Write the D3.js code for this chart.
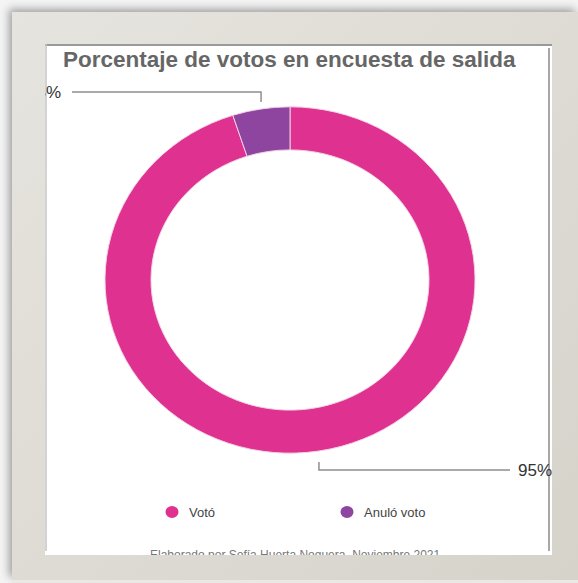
<!DOCTYPE html>
<html>
<head>
<meta charset="utf-8">
<script src="https://cdn.jsdelivr.net/npm/d3@7"></script>
<style>
  html, body { margin: 0; padding: 0; background: #ffffff; }
  svg { display: block; }
</style>
</head>
<body>
<script>
// Exit-poll results
const categories = ["Votó", "Anuló voto"];
const values = [95, 5];
const valueLabels = ["95%", "5%"];
const colors = ["#de3190", "#8d45a0"];
const title = "Porcentaje de votos en encuesta de salida";
const footer = "Elaborado por Sofía Huerta Noguera, Noviembre 2021";

const W = 578, H = 583;
const svg = d3.select("body").append("svg").attr("width", W).attr("height", H);
const defs = svg.append("defs");

// frame shading
const fg = defs.append("linearGradient").attr("id", "frameGrad")
  .attr("x1", 0).attr("y1", 0).attr("x2", 1).attr("y2", 1);
fg.append("stop").attr("offset", "0%").attr("stop-color", "#e6e4de");
fg.append("stop").attr("offset", "100%").attr("stop-color", "#d6d3cb");

const sh = defs.append("filter").attr("id", "frameShadow")
  .attr("x", "-10%").attr("y", "-10%").attr("width", "120%").attr("height", "120%");
sh.append("feDropShadow").attr("dx", -3).attr("dy", -3).attr("stdDeviation", 4)
  .attr("flood-color", "#000").attr("flood-opacity", 0.35);

// outer backdrop
svg.append("rect").attr("width", W).attr("height", H).attr("fill", "#f4f4f4");

// frame
svg.append("rect").attr("x", 12).attr("y", 12).attr("width", W - 12).attr("height", 568)
  .attr("fill", "url(#frameGrad)").attr("filter", "url(#frameShadow)");
svg.append("rect").attr("x", 12).attr("y", 580).attr("width", W - 12).attr("height", 3)
  .attr("fill", "#e9e8e4");

// inner panel
const panel = { x: 45, y: 44, w: 507, h: 511 };
defs.append("clipPath").attr("id", "panelClip")
  .append("rect").attr("x", panel.x).attr("y", panel.y).attr("width", panel.w).attr("height", panel.h);

svg.append("rect").attr("x", panel.x).attr("y", panel.y).attr("width", panel.w).attr("height", panel.h)
  .attr("fill", "#ffffff");
// bevel lines
svg.append("line").attr("x1", panel.x).attr("x2", panel.x + panel.w).attr("y1", panel.y + 1).attr("y2", panel.y + 1)
  .attr("stroke", "#9a9a9a").attr("stroke-width", 2);
svg.append("line").attr("x1", panel.x + 1).attr("x2", panel.x + 1).attr("y1", panel.y).attr("y2", panel.y + panel.h - 4)
  .attr("stroke", "#c4c4c4").attr("stroke-width", 1.5);
svg.append("line").attr("x1", panel.x + panel.w - 3).attr("x2", panel.x + panel.w - 3).attr("y1", panel.y + 4).attr("y2", panel.y + panel.h - 4)
  .attr("stroke", "#a8a8a8").attr("stroke-width", 2);

const g = svg.append("g").attr("clip-path", "url(#panelClip)");

// title (slightly condensed vertically, like the rest of the chart)
g.append("text").attr("transform", "translate(63,67) scale(1,0.94)")
  .attr("font-family", "Liberation Sans, Arial, sans-serif")
  .attr("font-weight", "bold").attr("font-size", 22.5).attr("fill", "#666666")
  .text(title);

// donut
const cx = 290, cy = 280, rOuter = 185, rInner = 139, yScale = 0.936;
const pie = d3.pie().sort(null).value(d => d)(values);
const arc = d3.arc().innerRadius(rInner).outerRadius(rOuter);

const donut = g.append("g").attr("transform", `translate(${cx},${cy}) scale(1,${yScale})`);
donut.selectAll("path").data(pie).join("path")
  .attr("d", arc)
  .attr("fill", (d, i) => colors[i])
  .attr("stroke", "#f3d3e6").attr("stroke-width", 1);

// leader lines and value labels
const lineColor = "#8f8f8f";
pie.forEach((d, i) => {
  const mid = (d.startAngle + d.endAngle) / 2;
  const sx = cx + Math.sin(mid) * rOuter;
  const up = Math.cos(mid) > 0;
  const yEdge = cy - Math.cos(mid) * rOuter * yScale;
  const y0 = up ? yEdge - 7 : yEdge + 11;
  const y1 = up ? yEdge - 17 : yEdge + 19;
  const xEnd = up ? 72 : 510;
  g.append("path")
    .attr("d", `M${sx},${y0}L${sx},${y1}L${xEnd},${y1}`)
    .attr("fill", "none").attr("stroke", lineColor).attr("stroke-width", 1.5);
  g.append("text")
    .attr("x", up ? xEnd - 11 : xEnd + 8).attr("y", y1 + 6)
    .attr("text-anchor", up ? "end" : "start")
    .attr("font-family", "Liberation Sans, Arial, sans-serif")
    .attr("font-size", 17).attr("fill", "#333333")
    .text(valueLabels[i]);
});

// legend
const legendX = [172, 347];
categories.forEach((c, i) => {
  g.append("ellipse").attr("cx", legendX[i]).attr("cy", 512).attr("rx", 6.5).attr("ry", 6)
    .attr("fill", colors[i]);
  g.append("text").attr("x", legendX[i] + 17).attr("y", 517)
    .attr("font-family", "Liberation Sans, Arial, sans-serif")
    .attr("font-size", 13).attr("fill", "#444444")
    .text(c);
});

// credit line, cut by the bottom of the panel
g.append("text").attr("x", 150).attr("y", 559)
  .attr("font-family", "Liberation Sans, Arial, sans-serif")
  .attr("font-size", 12).attr("fill", "#777777")
  .text(footer);
</script>
</body>
</html>
